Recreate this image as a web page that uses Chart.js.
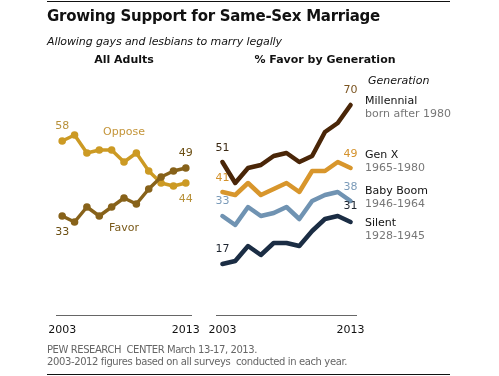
<!DOCTYPE html>
<html><head><meta charset="utf-8">
<script src="https://cdn.jsdelivr.net/npm/chart.js@4/dist/chart.umd.min.js"></script>
<style>
html,body{margin:0;padding:0;background:#fff;}
#wrap{position:relative;width:499px;height:376px;overflow:hidden;font-family:"DejaVu Sans",Verdana,sans-serif;color:#111;}
canvas{position:absolute;left:0;top:0;}
.t{position:absolute;white-space:nowrap;transform:translateY(-50%);line-height:normal;}
.c{transform:translate(-50%,-50%);}
.rule{position:absolute;left:47px;width:403px;height:1.5px;background:#111;}
</style></head><body>
<div id="wrap">
<canvas id="c1" width="499" height="376"></canvas>
<canvas id="c2" width="499" height="376"></canvas>
<div class="rule" style="top:0.5px"></div>
<div class="t fit" data-w="333" style="left:47px;top:16px;font-size:15px;font-weight:bold;">Growing Support for Same-Sex Marriage</div>
<div class="t fit" data-w="235" style="left:47px;top:41px;font-size:11px;font-style:italic;">Allowing gays and lesbians to marry legally</div>
<div class="t c" style="left:124px;top:59px;font-size:11px;font-weight:bold;">All Adults</div>
<div class="t c" style="left:325px;top:59px;font-size:11px;font-weight:bold;">% Favor by Generation</div>
<div class="t" style="left:368px;top:80px;font-size:11px;font-style:italic;">Generation</div>
<div class="t c" style="left:124px;top:131px;font-size:11px;color:#C4953A;">Oppose</div>
<div class="t c" style="left:124px;top:227px;font-size:11px;color:#7A5A1A;">Favor</div>
<div class="t" style="left:365px;top:100px;font-size:11px;">Millennial</div>
<div class="t" style="left:365px;top:113px;font-size:11px;color:#777;">born after 1980</div>
<div class="t" style="left:365px;top:154px;font-size:11px;">Gen X</div>
<div class="t" style="left:365px;top:167px;font-size:11px;color:#777;">1965-1980</div>
<div class="t" style="left:365px;top:190px;font-size:11px;">Baby Boom</div>
<div class="t" style="left:365px;top:203px;font-size:11px;color:#777;">1946-1964</div>
<div class="t" style="left:365px;top:222px;font-size:11px;">Silent</div>
<div class="t" style="left:365px;top:235px;font-size:11px;color:#777;">1928-1945</div>
<div class="t fit" data-w="210" style="left:47px;top:349px;font-size:10px;color:#666;">PEW RESEARCH&nbsp; CENTER March 13-17, 2013.</div>
<div class="t fit" data-w="300" style="left:47px;top:361px;font-size:10px;color:#666;">2003-2012 figures based on all surveys&nbsp; conducted in each year.</div>
<div class="rule" style="top:373.5px"></div>
</div>
<script>
// ---- data ----
const years = ['2003','2004','2005','2006','2007','2008','2009','2010','2011','2012','2013'];
const tickYears = ['2003','2013'];
const oppose = [58, 60, 54, 55, 55, 51, 54, 48, 44, 43, 44];
const favor = [33, 31, 36, 33, 36, 39, 37, 42, 46, 48, 49];
const millennial = [51, 44, 49, 50, 53, 54, 51, 53, 61, 64, 70];
const genX = [41, 40, 44, 40, 42, 44, 41, 48, 48, 51, 49];
const babyBoom = [33, 30, 36, 33, 34, 36, 32, 38, 40, 41, 38];
const silent = [17, 18, 23, 20, 24, 24, 23, 28, 32, 33, 31];

// fit text widths
document.querySelectorAll('.fit').forEach(el=>{
  const target=+el.dataset.w;
  const w=el.getBoundingClientRect().width;
  const n=el.textContent.length;
  el.style.letterSpacing=((target-w)/n)+'px';
});

const panelPlugin = {
  id:'panel',
  afterDatasetsDraw(chart){
    const ctx=chart.ctx, a=chart.chartArea, xs=chart.scales.x;
    ctx.save();
    ctx.strokeStyle='#666'; ctx.lineWidth=1;
    ctx.beginPath(); ctx.moveTo(a.left, a.bottom+0.5); ctx.lineTo(a.right, a.bottom+0.5); ctx.stroke();
    ctx.font='11px "DejaVu Sans"'; ctx.fillStyle='#111'; ctx.textAlign='center'; ctx.textBaseline='middle';
    tickYears.forEach(t=>{ ctx.fillText(t, xs.getPixelForValue(years.indexOf(t)), a.bottom+15); });
    chart.data.datasets.forEach((ds,i)=>{
      const meta=chart.getDatasetMeta(i);
      (ds.valueLabels||[]).forEach(l=>{
        const idx=l.at==='first'?0:ds.data.length-1;
        const p=meta.data[idx];
        ctx.fillStyle=l.color;
        ctx.fillText(String(ds.data[idx]), p.x, p.y+l.dy);
      });
    });
    ctx.restore();
  }
};

function makeChart(id, datasets, pad){
  return new Chart(document.getElementById(id), {
    type:'line',
    data:{labels:years, datasets},
    options:{
      responsive:false, devicePixelRatio:1, animation:false,
      layout:{padding:pad, autoPadding:false},
      plugins:{legend:{display:false}, tooltip:{enabled:false}},
      elements:{line:{tension:0, borderJoinStyle:'round', borderCapStyle:'round'}},
      scales:{
        x:{type:'category', offset:true, display:false},
        y:{min:0, max:80, display:false}
      }
    },
    plugins:[panelPlugin]
  });
}

makeChart('c1', [
  {data:favor, borderColor:'#87621A', backgroundColor:'#87621A', borderWidth:3.5, pointRadius:3.8, pointBorderWidth:0, pointHoverRadius:3.8,
   valueLabels:[{at:'first',dy:16,color:'#6B4E12'},{at:'last',dy:-15,color:'#6B4E12'}]},
  {data:oppose, borderColor:'#CC9A24', backgroundColor:'#CC9A24', borderWidth:3.5, pointRadius:3.8, pointBorderWidth:0, pointHoverRadius:3.8,
   valueLabels:[{at:'first',dy:-15,color:'#B8913A'},{at:'last',dy:16,color:'#B8913A'}]}
], {left:56, right:307, top:75, bottom:61});

makeChart('c2', [
  {data:millennial, borderColor:'#4A2608', borderWidth:4.5, pointRadius:0,
   valueLabels:[{at:'first',dy:-14,color:'#3C2A14'},{at:'last',dy:-15,color:'#7B5420'}]},
  {data:genX, borderColor:'#D8962C', borderWidth:4.5, pointRadius:0,
   valueLabels:[{at:'first',dy:-14,color:'#D4922C'},{at:'last',dy:-14,color:'#D4922C'}]},
  {data:babyBoom, borderColor:'#7093B2', borderWidth:4.5, pointRadius:0,
   valueLabels:[{at:'first',dy:-15,color:'#7B9BB9'},{at:'last',dy:-14,color:'#7B9BB9'}]},
  {data:silent, borderColor:'#1B2D44', borderWidth:4.5, pointRadius:0,
   valueLabels:[{at:'first',dy:-15,color:'#1E2530'},{at:'last',dy:-16,color:'#1E2530'}]}
], {left:216, right:142, top:75, bottom:61});
</script>
</body></html>
